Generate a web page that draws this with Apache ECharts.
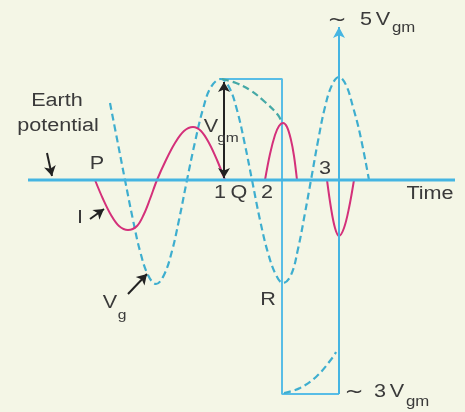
<!DOCTYPE html>
<html>
<head>
<meta charset="utf-8">
<script src="https://cdn.jsdelivr.net/npm/echarts@6/dist/echarts.min.js"></script>
<style>
  html, body { margin: 0; padding: 0; background: #f4f6e6; }
  #main { width: 465px; height: 412px; }
</style>
</head>
<body>
<div id="main"></div>
<script>
// time in arbitrary units, voltage in units of Vgm (0 = earth potential)
var gridVoltage = [
  [11.0, 0.77], [11.8, 0.36], [12.5, 0], [13.3, -0.40], [14.0, -0.71], [14.8, -0.95],
  [15.6, -1.04], [16.4, -0.95], [17.2, -0.71], [17.9, -0.40], [18.7, 0],
  [19.5, 0.38], [20.3, 0.71], [21.1, 0.93], [22.1, 1.01], [22.9, 0.93], [23.7, 0.70],
  [24.5, 0.35], [25.2, 0], [26.0, -0.40], [26.8, -0.73], [27.6, -0.95], [28.3, -1.03],
  [29.1, -0.95], [29.8, -0.69], [30.5, -0.33], [31.1, 0], [31.8, 0.39], [32.5, 0.73],
  [33.2, 0.95], [33.9, 1.03], [34.6, 0.95], [35.3, 0.73], [36.0, 0.46], [36.9, 0]
];
// plate current I, drawn in three pulses (zero in between)
var currentA = [
  [9.5, 0], [10.3, -0.19], [11.1, -0.35], [11.9, -0.46], [12.8, -0.50], [13.7, -0.46],
  [14.4, -0.34], [15.0, -0.19], [15.7, 0], [16.6, 0.20], [17.5, 0.37], [18.4, 0.49],
  [19.3, 0.53], [20.1, 0.49], [20.9, 0.37], [21.7, 0.20], [22.5, 0]
];
var currentB = [
  [26.5, 0], [27.0, 0.26], [27.5, 0.45], [27.9, 0.54], [28.3, 0.57], [28.7, 0.53],
  [29.1, 0.40], [29.4, 0.24], [29.7, 0]
];
var currentC = [
  [32.7, 0], [33.1, -0.28], [33.5, -0.48], [33.9, -0.56], [34.4, -0.48], [34.9, -0.28], [35.4, 0]
];
var topBranch = [[22.2, 1.01], [23.6, 0.97], [25.0, 0.90], [26.5, 0.78], [27.8, 0.65], [28.2, 0.57]];
var bottomBranch = [[28.4, -2.13], [30.0, -2.08], [31.7, -1.96], [33.3, -1.77], [33.6, -1.72]];
var earthLine = [[2.8, 0], [45.5, 0]];
var pulseOutline = [[22.0, 1.01], [28.2, 1.01], [28.2, -2.14], [33.9, -2.14]];
var peakAxis = [[33.9, -2.14], [33.9, 1.53]];

var blue = '#45b5e2';
var dash = '#3eaecf';
var magenta = '#d4307a';
var ink = '#3a3a3a';
var font = 'Liberation Sans, Arial, sans-serif';

function label(text, x, y, size, align, family) {
  return {
    type: 'text', x: x, y: y, scaleX: 1.2, z: 100,
    style: {
      text: text, fill: ink, font: size + 'px ' + (family || font),
      align: align || 'center', verticalAlign: 'middle'
    }
  };
}

function arrow(from, to, both) {
  return [
    { coord: from, symbol: both ? 'arrow' : 'none' },
    { coord: to, symbol: 'arrow' }
  ];
}

function pulse(data) {
  return {
    type: 'line', data: data, symbol: 'none', smooth: 0.35, z: 4,
    lineStyle: { color: magenta, width: 2 }
  };
}

var myChart = echarts.init(document.getElementById('main'));
var option = {
  backgroundColor: '#f4f6e6',
  animation: false,
  grid: { left: 0, right: 0, top: 0, bottom: 0 },
  xAxis: { type: 'value', min: 0, max: 46.5, show: false },
  yAxis: { type: 'value', min: -2.32, max: 1.80, show: false },
  series: [
    {
      type: 'line', data: pulseOutline, symbol: 'none', z: 2,
      lineStyle: { color: '#58bde6', width: 2 }
    },
    {
      type: 'line', data: gridVoltage, symbol: 'none', smooth: 0.4, z: 3,
      lineStyle: { color: dash, width: 2.2, type: [7, 4] }
    },
    {
      type: 'line', data: topBranch, symbol: 'none', smooth: 0.4, z: 3,
      lineStyle: { color: '#45a9a6', width: 2.2, type: [7, 4] }
    },
    {
      type: 'line', data: bottomBranch, symbol: 'none', smooth: 0.4, z: 3,
      lineStyle: { color: dash, width: 2.2, type: [7, 4] }
    },
    pulse(currentA),
    pulse(currentB),
    pulse(currentC),
    {
      type: 'line', data: earthLine, symbol: 'none', z: 5,
      lineStyle: { color: blue, width: 3 }
    },
    {
      type: 'line', data: [], z: 6,
      markLine: {
        silent: true, animation: false,
        label: { show: false },
        symbolSize: [9, 11],
        lineStyle: { color: blue, width: 2, type: 'solid' },
        data: [arrow(peakAxis[0], peakAxis[1])]
      }
    },
    {
      type: 'line', data: [], z: 7,
      markLine: {
        silent: true, animation: false,
        label: { show: false },
        symbolSize: [9, 10],
        lineStyle: { color: '#222', width: 2, type: 'solid' },
        data: [
          arrow([4.7, 0.27], [5.2, 0.04]),
          arrow([9.0, -0.39], [10.4, -0.29]),
          arrow([12.8, -1.14], [14.7, -0.94]),
          arrow([22.4, 0.98], [22.4, 0.02], true)
        ]
      }
    }
  ],
  graphic: [
    label('Earth', 57, 101, 18),
    label('potential', 58, 126, 18),
    label('P', 97, 164, 18),
    label('I', 80, 218, 18),
    label('V', 110, 303, 18),
    label('g', 122, 315, 13),
    label('V', 211, 127, 18),
    label('gm', 228, 138, 13),
    label('1', 220, 193, 18),
    label('Q', 239, 193, 18),
    label('2', 267, 193, 18),
    label('3', 325, 169, 18),
    label('R', 268, 300, 18),
    label('Time', 430, 194, 18),
    label('~', 337, 21, 19, 'center', 'DejaVu Sans'),
    label('5', 366, 20, 18),
    label('V', 383, 20, 18),
    label('gm', 392, 28, 14, 'left'),
    label('~', 354, 393, 19, 'center', 'DejaVu Sans'),
    label('3', 380, 392, 18),
    label('V', 397, 392, 18),
    label('gm', 406, 402, 14, 'left')
  ]
};
myChart.setOption(option);
</script>
</body>
</html>
